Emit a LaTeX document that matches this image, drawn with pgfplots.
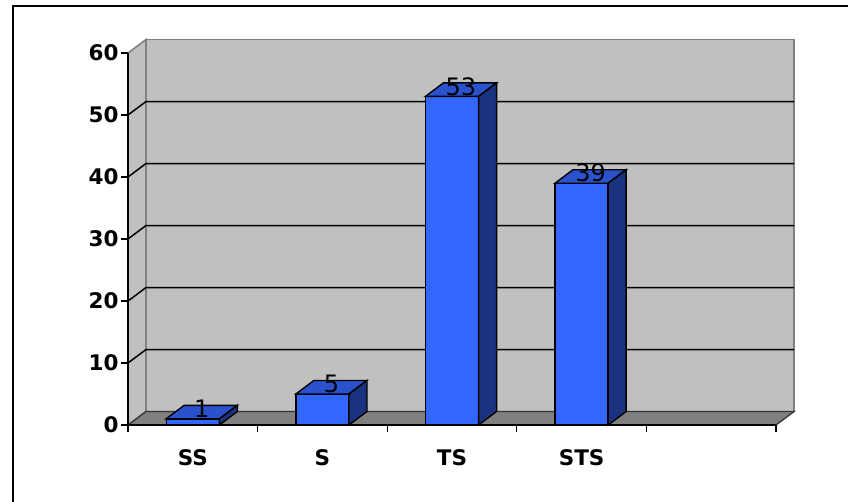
\documentclass[border=0pt]{standalone}
\usepackage{fontspec}
\setmainfont{DejaVu Sans}
\usepackage{pgfplots}
\usepackage{pgfplotstable}
\pgfplotsset{compat=1.18}
\definecolor{barfront}{RGB}{51,102,255}
\definecolor{bartop}{RGB}{41,82,204}
\definecolor{barside}{RGB}{26,51,128}
\definecolor{wall}{RGB}{192,192,192}
\definecolor{floorc}{RGB}{128,128,128}
\pgfplotstableread{
x v
0.5 1
1.5 5
2.5 53
3.5 39
}\data
\def\dx{0.1389}
\def\dy{2.177}
\begin{document}
\begin{tikzpicture}
\begin{axis}[
  scale only axis, width=648pt, height=372pt,
  xmin=0, xmax=5, ymin=0, ymax=60,
  clip=false, axis on top=true,
  axis x line*=bottom, axis y line*=left,
  axis line style={black, line width=1.7pt},
  xtick={0,1,...,5}, xticklabels={SS,S,TS,STS,{}},
  x tick label as interval,
  ytick={0,10,...,60},
  tick align=outside, major tick length=7pt,
  tick style={black, line width=1.3pt},
  /pgf/number format/assume math mode=true,
  tick label style={font=\fontsize{21.5}{25}\selectfont\bfseries},
  xticklabel style={yshift=-14pt},
  yticklabel style={xshift=1pt},
]
\coordinate (O) at (axis cs:0,0);
% walls and floor
\addplot[fill=wall, draw=floorc, line width=1.6pt, forget plot] coordinates {(\dx,\dy) (5.1389,\dy) (5.1389,62.177) (\dx,62.177)} -- cycle;
\addplot[fill=wall, draw=floorc, line width=1.6pt, forget plot] coordinates {(0,0) (\dx,\dy) (\dx,62.177) (0,60)} -- cycle;
\addplot[fill=floorc, draw=black!80, line width=1.3pt, forget plot] coordinates {(0,0) (5,0) (5.1389,\dy) (\dx,\dy)} -- cycle;
% gridlines
\pgfplotsinvokeforeach{10,20,30,40,50}{
  \pgfmathsetmacro\gy{#1+\dy}
  \edef\temp{\noexpand\addplot[black, line width=1.5pt, forget plot] coordinates {(0,#1) (\dx,\gy) (5.1389,\gy)};}
  \temp
}
% front faces of bars
\addplot[ybar, bar width=0.41, fill=barfront, draw=black, line width=1.4pt,
  nodes near coords,
  every node near coord/.style={anchor=center, xshift=9pt, yshift=10pt, font=\fontsize{24}{28}\selectfont, text=black},
] table[x=x, y=v] {\data};
% top and side faces
\pgfplotsinvokeforeach{0,1,2,3}{
  \pgfplotstablegetelem{#1}{x}\of\data \let\xc\pgfplotsretval
  \pgfplotstablegetelem{#1}{v}\of\data \let\vv\pgfplotsretval
  \pgfmathsetmacro\xa{\xc-0.205}
  \pgfmathsetmacro\xb{\xc+0.205}
  \pgfmathsetmacro\xab{\xa+\dx}
  \pgfmathsetmacro\xbb{\xb+\dx}
  \pgfmathsetmacro\vt{\vv+\dy}
  \edef\temp{\noexpand\addplot[fill=bartop, draw=black, line width=1.4pt, forget plot] coordinates {(\xa,\vv) (\xb,\vv) (\xbb,\vt) (\xab,\vt)} -- cycle;
    \noexpand\addplot[fill=barside, draw=black, line width=1.4pt, forget plot] coordinates {(\xb,0) (\xbb,\dy) (\xbb,\vt) (\xb,\vv)} -- cycle;}
  \temp
}
\end{axis}
\pgfresetboundingbox
\path[use as bounding box] ([shift={(-128pt,-76pt)}]O) rectangle ([shift={(720pt,425pt)}]O);
\draw[line width=2pt] ([shift={(-115pt,-80pt)}]O) -- ([shift={(-115pt,419pt)}]O) -- ([shift={(725pt,419pt)}]O);
\end{tikzpicture}
\end{document}
